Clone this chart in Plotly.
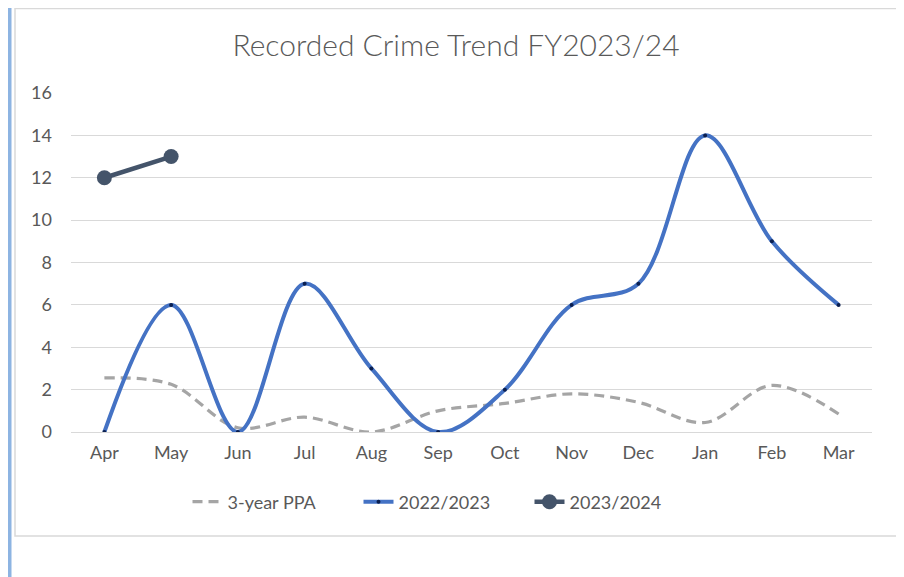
import plotly.graph_objects as go

months = ["Apr", "May", "Jun", "Jul", "Aug", "Sep", "Oct", "Nov", "Dec", "Jan", "Feb", "Mar"]
ppa_3yr = [2.55, 2.25, 0.2, 0.7, 0.0, 1.0, 1.35, 1.8, 1.4, 0.45, 2.2, 0.85]
fy_2022_23 = [0, 6, 0, 7, 3, 0, 2, 6, 7, 14, 9, 6]
fy_2023_24 = [12, 13]
y_ticks = [0, 2, 4, 6, 8, 10, 12, 14, 16]

FONT = "Lato"
TXT = "#595959"
OFF = 8  # page body margin offset

# screen-space targets
PL, PR, PT, PB = 71, 872, 93, 432
L = PL - OFF
T = PT - OFF
W, H = 904, 577
R = W - (PR - OFF)
B = H - (PB - OFF)
pw, ph = W - L - R, H - T - B

def px(x):
    return (x - OFF - L) / pw

def py(y):
    return (H - B - (y - OFF)) / ph

fig = go.Figure()
fig.add_trace(go.Scatter(
    x=months, y=ppa_3yr, name="3-year PPA", mode="lines",
    line=dict(color="#A5A5A5", width=3.2, dash="10px,6px", shape="spline", smoothing=1.0),
))
fig.add_trace(go.Scatter(
    x=months, y=fy_2022_23, name="2022/2023", mode="lines+markers",
    line=dict(color="#4472C4", width=4, shape="spline", smoothing=1.0),
    marker=dict(color="#0B1F4F", size=4),
))
fig.add_trace(go.Scatter(
    x=months[:len(fy_2023_24)], y=fy_2023_24, name="2023/2024", mode="lines+markers",
    line=dict(color="#44546A", width=4.5),
    marker=dict(color="#44546A", size=15),
))

shapes = [
    dict(type="rect", xref="paper", yref="paper",
         x0=px(15), x1=px(897), y0=py(536), y1=py(8.5),
         line=dict(color="#D9D9D9", width=1.5), layer="below"),
    dict(type="rect", xref="paper", yref="paper",
         x0=px(8), x1=px(11.5), y0=py(600), y1=py(0),
         line=dict(width=0), fillcolor="#8DB4E2", layer="below"),
]

fig.update_layout(
    width=W, height=H,
    margin=dict(l=L, r=R, t=T, b=B),
    paper_bgcolor="white", plot_bgcolor="white",
    font=dict(family=FONT, color=TXT, size=17),
    title=dict(text="Recorded Crime Trend FY2023/24", x=(456 - OFF) / W, xanchor="center",
               y=1 - (45 - OFF) / H, yanchor="middle", yref="container",
               font=dict(size=30, color=TXT, family=FONT, weight=300)),
    xaxis=dict(type="category", categoryorder="array", categoryarray=months,
               range=[-0.5, 11.5], showgrid=False, showline=False, zeroline=False,
               ticks="", tickfont=dict(size=18, color=TXT), ticklabelstandoff=8),
    yaxis=dict(range=[0, 16], tickvals=y_ticks, showgrid=True, gridcolor="#D9D9D9",
               gridwidth=1, zeroline=True, zerolinecolor="#D9D9D9", zerolinewidth=1,
               showline=False, ticks="", tickfont=dict(size=18, color=TXT),
               ticklabelstandoff=18),
    legend=dict(orientation="h", x=px(444), xanchor="center", y=py(502), yanchor="middle",
                font=dict(size=18, color=TXT), traceorder="normal",
                entrywidth=126, bgcolor="rgba(0,0,0,0)"),
    showlegend=True,
    shapes=shapes,
)

fig.write_html("out.html")
